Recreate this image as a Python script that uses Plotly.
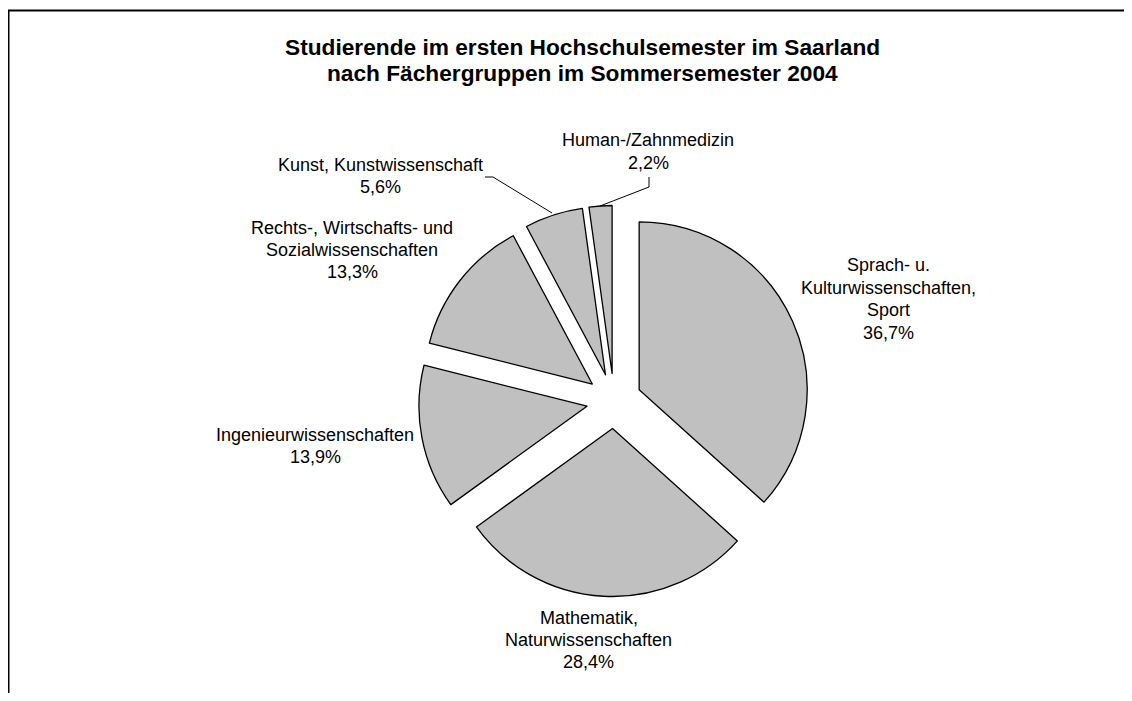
import plotly.graph_objects as go

# ---- data ----
category_lines = [
    ["Sprach- u.", "Kulturwissenschaften,", "Sport"],
    ["Mathematik,", "Naturwissenschaften"],
    ["Ingenieurwissenschaften"],
    ["Rechts-, Wirtschafts- und", "Sozialwissenschaften"],
    ["Kunst, Kunstwissenschaft"],
    ["Human-/Zahnmedizin"],
]
shares = [36.7, 28.4, 13.9, 13.3, 5.6, 2.2]
share_labels = ["36,7%", "28,4%", "13,9%", "13,3%", "5,6%", "2,2%"]
title_lines = [
    "Studierende im ersten Hochschulsemester im Saarland",
    "nach Fächergruppen im Sommersemester 2004",
]

# page body has an 8px margin; figure fits inside the 1132x701 window
OFF = 8
W, H = 1132 - 2 * OFF, 701 - 2 * OFF
FONT = "Liberation Sans, Arial, sans-serif"


def px(x):
    return (x - OFF) / W


def py(y):
    return 1 - (y - OFF) / H


# pie geometry (window pixels)
cx, cy, r, pull = 614, 401, 168, 0.164
half = r * (1 + pull)

fig = go.Figure()
fig.add_trace(go.Pie(
    labels=[" ".join(c) for c in category_lines],
    values=shares,
    sort=False,
    direction="clockwise",
    rotation=0,
    pull=[pull] * len(shares),
    marker=dict(colors=["#C0C0C0"] * len(shares), line=dict(color="#000000", width=1.3)),
    textinfo="none",
    hoverinfo="label+value",
    showlegend=False,
    domain=dict(x=[px(cx - half), px(cx + half)], y=[py(cy + half), py(cy - half)]),
))

# label block centers (window pixels) – layout only
label_pos = [(888, 299), (589, 640), (315, 446), (352, 250), (380, 176), (648, 151.5)]
LINE_H = 22.4
annotations = []
for lines, lab, (x, yc) in zip(category_lines, share_labels, label_pos):
    all_lines = lines + [lab]
    n = len(all_lines)
    for i, t in enumerate(all_lines):
        y = yc + (i - (n - 1) / 2) * LINE_H
        annotations.append(dict(
            x=px(x), y=py(y), xref="paper", yref="paper",
            text=t, showarrow=False,
            xanchor="center", yanchor="middle", align="center",
            font=dict(family=FONT, size=18, color="#000000"),
        ))

for line, y in zip(title_lines, [47, 73]):
    annotations.append(dict(
        x=px(582), y=py(y), xref="paper", yref="paper",
        text="<b>" + line + "</b>", showarrow=False,
        xanchor="center", yanchor="middle",
        font=dict(family=FONT, size=22.7, color="#000000"),
    ))

shapes = [
    # chart frame (extends past right/bottom edges)
    dict(type="rect", xref="paper", yref="paper",
         x0=px(8.5), x1=px(1170), y0=py(740), y1=py(10.5),
         line=dict(color="#000000", width=2), fillcolor="rgba(0,0,0,0)"),
    # leader line Human-/Zahnmedizin
    dict(type="path", xref="paper", yref="paper",
         path=f"M {px(649)},{py(177)} L {px(649)},{py(187)} L {px(600)},{py(206)}",
         line=dict(color="#000000", width=1)),
    # leader line Kunst
    dict(type="path", xref="paper", yref="paper",
         path=f"M {px(485)},{py(177)} L {px(493)},{py(177)} L {px(552)},{py(213)}",
         line=dict(color="#000000", width=1)),
]

fig.update_layout(
    width=W, height=H,
    margin=dict(l=0, r=0, t=0, b=0),
    paper_bgcolor="#FFFFFF",
    plot_bgcolor="#FFFFFF",
    annotations=annotations,
    shapes=shapes,
    showlegend=False,
)

fig.write_html("out.html")
